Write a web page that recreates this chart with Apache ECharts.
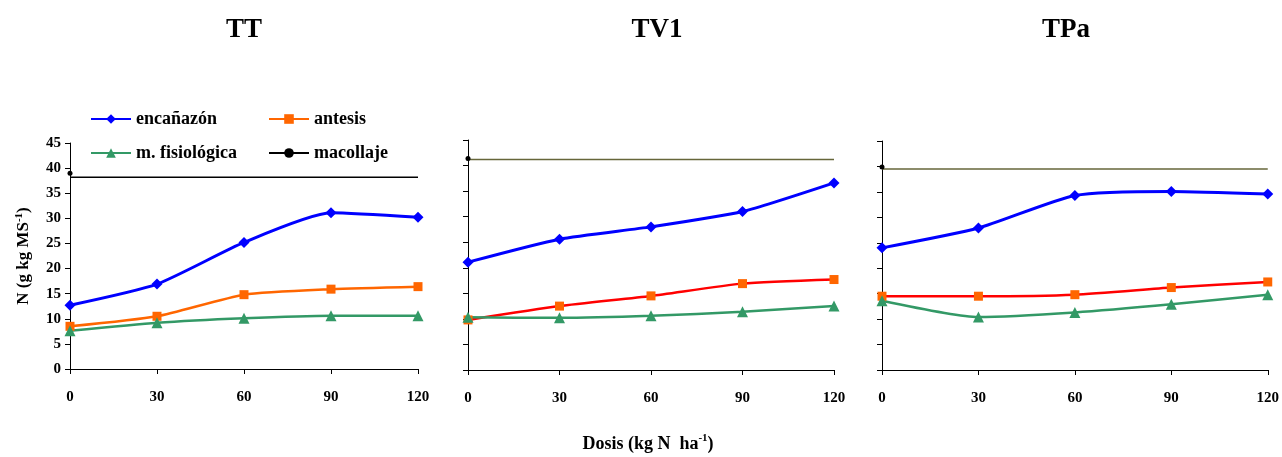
<!DOCTYPE html>
<html>
<head>
<meta charset="utf-8">
<script src="https://cdn.jsdelivr.net/npm/echarts@6/dist/echarts.min.js"></script>
<style>
  html, body { margin: 0; padding: 0; background: #fff; }
  #chart { width: 1282px; height: 457px; }
</style>
</head>
<body>
<div id="chart"></div>
<script>
const doses = [0, 30, 60, 90, 120]
const panelNames = ['TT', 'TV1', 'TPa']

// TT
const ttEnc = [12.7, 16.9, 25.2, 31.1, 30.2]
const ttAnt = [8.5, 10.5, 14.8, 15.9, 16.4]
const ttFis = [7.6, 9.2, 10.1, 10.6, 10.6]
const ttMac = 39.0
const ttMacRef = 38.2

// TV1
const tv1Enc = [21.1, 25.6, 28.0, 31.0, 36.6]
const tv1Ant = [9.8, 12.5, 14.5, 16.9, 17.7]
const tv1Fis = [10.3, 10.2, 10.6, 11.4, 12.5]
const tv1Mac = 41.4
const tv1MacRef = 41.2

// TPa
const tpaEnc = [24.0, 27.9, 34.3, 35.1, 34.6]
const tpaAnt = [14.5, 14.5, 14.8, 16.2, 17.3]
const tpaFis = [13.6, 10.4, 11.3, 12.9, 14.8]
const tpaMac = 39.9
const tpaMacRef = 39.5

const FONT = 'Liberation Serif'
const panels = [
  { enc: ttEnc, ant: ttAnt, fis: ttFis, mac: ttMac, ref: ttMacRef, antLine: '#ff6600', refColor: '#000000' },
  { enc: tv1Enc, ant: tv1Ant, fis: tv1Fis, mac: tv1Mac, ref: tv1MacRef, antLine: '#ff0000', refColor: '#66663a' },
  { enc: tpaEnc, ant: tpaAnt, fis: tpaFis, mac: tpaMac, ref: tpaMacRef, antLine: '#ff0000', refColor: '#66663a' },
]

const grids = [
  { left: 70, top: 143, width: 348, height: 226 },
  { left: 468, top: 140, width: 366, height: 230 },
  { left: 882, top: 141, width: 386, height: 229 },
]

const pair = arr => doses.map((d, i) => [d, arr[i]])

const xAxes = grids.map((g, i) => ({
  type: 'value', gridIndex: i, min: 0, max: 120, interval: 30,
  axisLine: { lineStyle: { color: '#000', width: 1 } },
  axisTick: { show: true, length: 5, lineStyle: { color: '#000' } },
  splitLine: { show: false },
  axisLabel: { color: '#000', fontFamily: FONT, fontWeight: 'bold', fontSize: 15, margin: 21 },
}))

const yAxes = grids.map((g, i) => ({
  type: 'value', gridIndex: i, min: 0, max: 45, interval: 5,
  axisLine: { show: true, lineStyle: { color: '#000', width: 1 } },
  axisTick: { show: true, length: 5, lineStyle: { color: '#000' } },
  splitLine: { show: false },
  axisLabel: { show: i === 0, color: '#000', fontFamily: FONT, fontWeight: 'bold', fontSize: 15, margin: 9 },
  name: i === 0 ? '{a|N (g kg MS}{s|-1}{a|)}' : '',
  nameLocation: 'middle',
  nameGap: 36,
  nameRotate: 90,
  nameTextStyle: {
    rich: {
      a: { fontFamily: FONT, fontWeight: 'bold', fontSize: 17, color: '#000', lineHeight: 20 },
      s: { fontFamily: FONT, fontWeight: 'bold', fontSize: 11, color: '#000', lineHeight: 20, verticalAlign: 'top', padding: [0, 0, 6, 0] },
    },
  },
}))

const series = []
panels.forEach((p, i) => {
  series.push({
    name: 'macollaje-ref', type: 'line', xAxisIndex: i, yAxisIndex: i,
    data: [[0, p.ref], [120, p.ref]], symbol: 'none',
    lineStyle: { color: p.refColor, width: 1.5 }, z: 1,
  })
  series.push({
    name: 'encañazón', type: 'line', xAxisIndex: i, yAxisIndex: i,
    data: pair(p.enc), smooth: 0.2,
    symbol: 'diamond', symbolSize: 11,
    lineStyle: { color: '#0000ff', width: 3 }, itemStyle: { color: '#0000ff' },
  })
  series.push({
    name: 'antesis', type: 'line', xAxisIndex: i, yAxisIndex: i,
    data: pair(p.ant), smooth: 0.2,
    symbol: 'rect', symbolSize: 9,
    lineStyle: { color: p.antLine, width: 2.5 }, itemStyle: { color: '#ff6600' },
  })
  series.push({
    name: 'm. fisiológica', type: 'line', xAxisIndex: i, yAxisIndex: i,
    data: pair(p.fis), smooth: 0.2,
    symbol: 'triangle', symbolSize: 11,
    lineStyle: { color: '#339966', width: 2.5 }, itemStyle: { color: '#339966' },
  })
  series.push({
    name: 'macollaje', type: 'line', xAxisIndex: i, yAxisIndex: i,
    data: [[0, p.mac]], symbol: 'circle', symbolSize: 5,
    lineStyle: { color: '#000', width: 1.5 }, itemStyle: { color: '#000' },
  })
})

const legendText = { fontFamily: FONT, fontWeight: 'bold', fontSize: 18, color: '#000' }
const legendBase = {
  orient: 'vertical', top: 105, itemGap: 16, itemWidth: 40, itemHeight: 12,
  textStyle: legendText, selectedMode: false,
}

const chart = echarts.init(document.getElementById('chart'), null, { renderer: 'canvas' })
chart.setOption({
  animation: false,
  backgroundColor: '#fff',
  title: [
    ...panelNames.map((t, i) => ({
      text: t, left: [239, 652, 1061][i], top: 12, textAlign: 'center',
      textStyle: { fontFamily: FONT, fontWeight: 'bold', fontSize: 27, color: '#000' },
    })),
    {
      text: '{a|Dosis (kg N  ha}{s|-1}{a|)}', left: 643, top: 428, textAlign: 'center',
      textStyle: {
        rich: {
          a: { fontFamily: FONT, fontWeight: 'bold', fontSize: 18, color: '#000', lineHeight: 22 },
          s: { fontFamily: FONT, fontWeight: 'bold', fontSize: 11, color: '#000', lineHeight: 22, verticalAlign: 'top', padding: [0, 0, 8, 0] },
        },
      },
    },
  ],
  legend: [
    { ...legendBase, left: 85, data: ['encañazón', 'm. fisiológica'] },
    { ...legendBase, left: 263, data: ['antesis', 'macollaje'] },
  ],
  grid: grids,
  xAxis: xAxes,
  yAxis: yAxes,
  series,
})
</script>
</body>
</html>
